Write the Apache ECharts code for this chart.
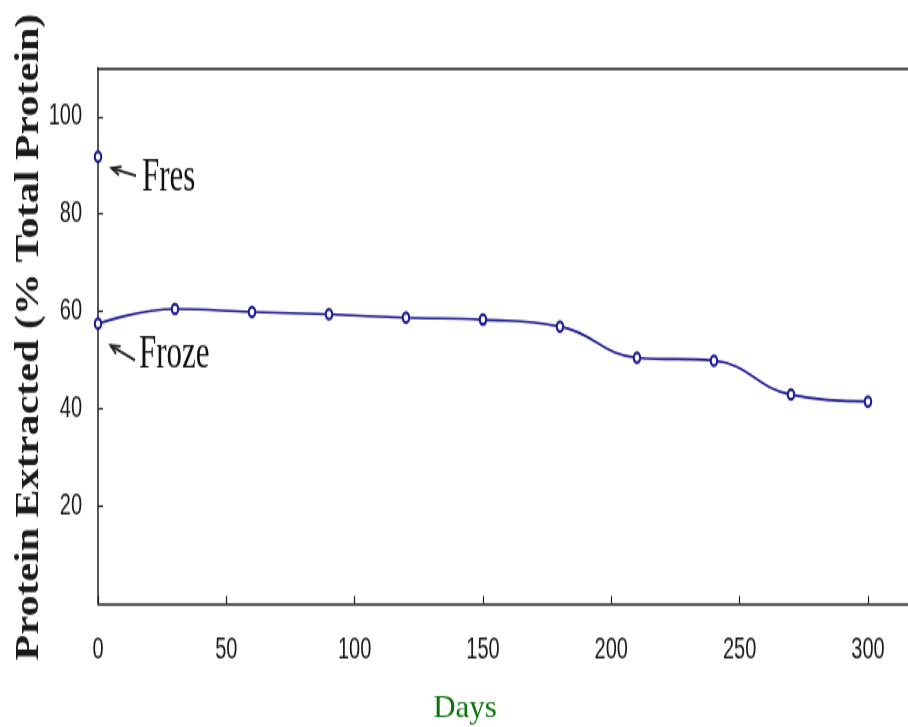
<!DOCTYPE html>
<html><head><meta charset="utf-8">
<script src="https://cdn.jsdelivr.net/npm/echarts@6/dist/echarts.min.js"></script>
<style>
html,body{margin:0;padding:0;background:#fff;overflow:hidden;width:908px;height:727px}
#c{width:908px;height:485px;transform:scaleY(1.5);transform-origin:0 0;}
</style></head><body><div id="c"></div>
<script>
// Data
const days = [0, 30, 60, 90, 120, 150, 180, 210, 240, 270, 300];
const frozen = [57.5, 60.5, 59.9, 59.4, 58.7, 58.3, 56.9, 50.5, 49.9, 42.9, 41.5];
const freshDays = [0];
const fresh = [91.8];
const xTicks = [0, 50, 100, 150, 200, 250, 300];
const yTicks = [20, 40, 60, 80, 100];
const annoFres = {text: 'Fres', from: [14.8, 87.9], to: [5.3, 89.4]};
const annoFroze = {text: 'Froze', from: [14.4, 50.0], to: [4.9, 53.0]};

const S = 1.5; // vertical stretch of the reference
const lineColor = '#1c1c92';
const axisColor = '#222';

const chart = echarts.init(document.getElementById('c'), null, {renderer: 'canvas'});
const textGraphics = [
  {type: 'text', x: 142, y: 178 / S, style: {text: annoFres.text, font: '31px "Liberation Serif", "Times New Roman", serif', fill: '#111', textVerticalAlign: 'middle'}},
  {type: 'text', x: 139, y: 356 / S, style: {text: annoFroze.text, font: '31px "Liberation Serif", "Times New Roman", serif', fill: '#111', textVerticalAlign: 'middle'}},
  {type: 'text', x: 29, y: 337 / S, rotation: Math.PI / 2, scaleX: 0.85,
    style: {text: 'Protein Extracted (% Total Protein)', font: 'bold 33px "Liberation Serif", "Times New Roman", serif', fill: '#1a1a1a', textAlign: 'center', textVerticalAlign: 'middle'}},
  {type: 'text', x: 465, y: 709 / S, scaleY: 1 / S,
    style: {text: 'Days', font: '31px "Liberation Serif", "Times New Roman", serif', fill: '#0b730b', textAlign: 'center', textVerticalAlign: 'middle'}}
];
const option = {
  animation: false,
  backgroundColor: '#fff',
  grid: {left: 98, right: 0, top: 45.33, bottom: 82.67, containLabel: false},
  xAxis: [{
    type: 'value', min: 0, max: 315.6,
    axisLine: {show: true, onZero: false, lineStyle: {color: axisColor, width: 1.5}},
    axisTick: {show: true, inside: true, length: 5, customValues: xTicks, lineStyle: {color: axisColor, width: 1.2}},
    axisLabel: {customValues: xTicks, margin: 21, fontSize: 20, fontFamily: 'Liberation Sans, Arial, sans-serif', color: '#1a1a1a'},
    splitLine: {show: false}
  }, {
    type: 'value', position: 'top', min: 0, max: 315.6,
    axisLine: {show: true, onZero: false, lineStyle: {color: axisColor, width: 1.5}},
    axisTick: {show: false}, axisLabel: {show: false}, splitLine: {show: false}
  }],
  yAxis: {
    type: 'value', min: 0, max: 110,
    axisLine: {show: true, onZero: false, lineStyle: {color: axisColor, width: 1.5}},
    axisTick: {show: true, inside: true, length: 5, customValues: yTicks, lineStyle: {color: axisColor, width: 1.2}},
    axisLabel: {customValues: yTicks, margin: 16, fontSize: 20, fontFamily: 'Liberation Sans, Arial, sans-serif', color: '#1a1a1a'},
    splitLine: {show: false}
  },
  series: [{
    name: 'Froze', type: 'line', smooth: 0.45,
    data: days.map((d, i) => [d, frozen[i]]),
    symbol: 'emptyCircle', symbolSize: 6.5,
    lineStyle: {color: lineColor, width: 1.6},
    itemStyle: {color: lineColor, borderColor: lineColor, borderWidth: 1.4}
  }, {
    name: 'Fres', type: 'line',
    data: freshDays.map((d, i) => [d, fresh[i]]),
    symbol: 'emptyCircle', symbolSize: 6.5,
    lineStyle: {color: lineColor, width: 1.6},
    itemStyle: {color: lineColor, borderColor: lineColor, borderWidth: 1.4}
  }],
  graphic: textGraphics
};
chart.setOption(option);

// Annotation arrows placed through the chart's own coordinate system
function arrow(a) {
  const p1 = chart.convertToPixel({gridIndex: 0}, a.from);
  const p2 = chart.convertToPixel({gridIndex: 0}, a.to);
  // work in the stretched (visible) space for the head geometry
  const x1 = p1[0], y1 = p1[1] * S, x2 = p2[0], y2 = p2[1] * S;
  const ang = Math.atan2(y1 - y2, x1 - x2);
  const L = 10, w = 0.45;
  const h1 = [x2 + L * Math.cos(ang + w), (y2 + L * Math.sin(ang + w)) / S];
  const h2 = [x2 + L * Math.cos(ang - w), (y2 + L * Math.sin(ang - w)) / S];
  return [
    {type: 'polyline', shape: {points: [p1, p2]}, style: {stroke: axisColor, lineWidth: 1.8, fill: null}},
    {type: 'polyline', shape: {points: [h1, p2, h2]}, style: {stroke: axisColor, lineWidth: 1.8, fill: null, lineJoin: 'miter'}}
  ];
}
chart.setOption({graphic: textGraphics.concat(arrow(annoFres), arrow(annoFroze))}, {replaceMerge: ['graphic']});
</script>
</body></html>
